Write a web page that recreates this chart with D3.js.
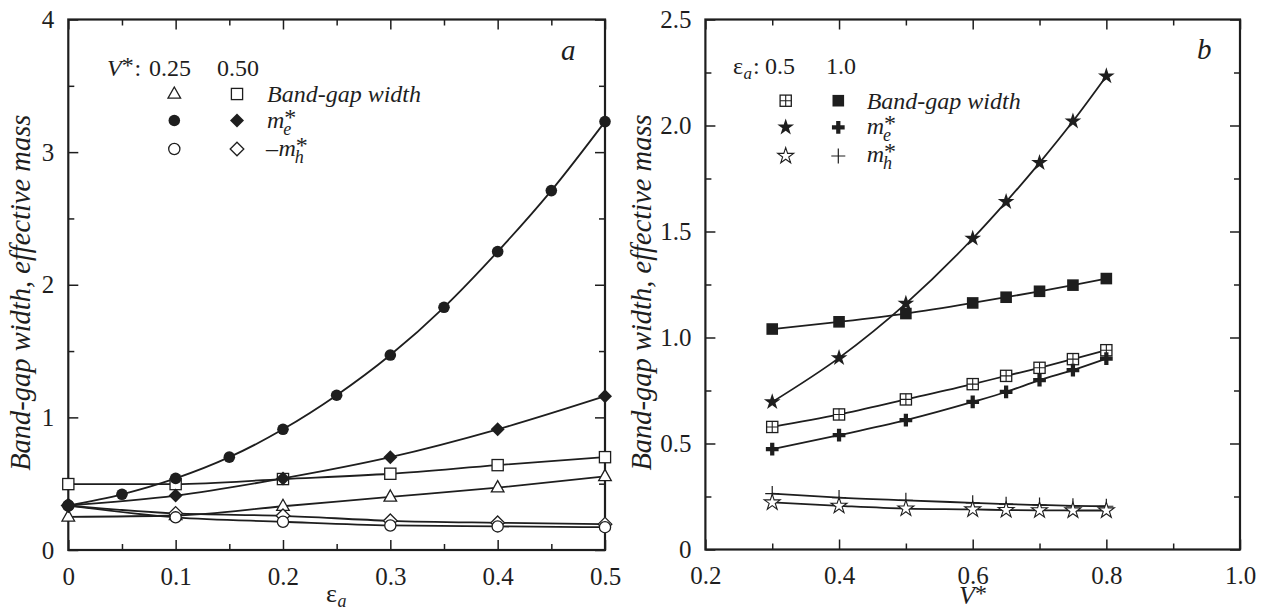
<!DOCTYPE html>
<html><head><meta charset="utf-8">
<script src="https://cdn.jsdelivr.net/npm/d3@7"></script>
<style>body{margin:0;background:#fff}</style>
</head><body>
<svg id="c" width="1266" height="613"></svg>
<script>
// ---------------- DATA ----------------
// Panel a: x = eps_a
const epsA = [0, 0.1, 0.2, 0.3, 0.4, 0.5];
const epsFine = [0, 0.05, 0.1, 0.15, 0.2, 0.25, 0.3, 0.35, 0.4, 0.45, 0.5];
const gapV025 = [0.25, 0.26, 0.33, 0.40, 0.47, 0.555];        // triangles
const gapV050 = [0.497, 0.497, 0.535, 0.575, 0.64, 0.70];     // open squares
const meV025 = [0.335, 0.42, 0.54, 0.70, 0.91, 1.167, 1.47, 1.83, 2.25, 2.71, 3.23]; // filled circles
const meV050 = [0.335, 0.41, 0.54, 0.70, 0.91, 1.16];         // filled diamonds
const mhV025 = [0.335, 0.246, 0.213, 0.185, 0.178, 0.172];    // open circles
const mhV050 = [0.335, 0.276, 0.258, 0.22, 0.205, 0.195];     // open diamonds
const aXTicks = [0, 0.1, 0.2, 0.3, 0.4, 0.5];
const aXTickLabels = ["0", "0.1", "0.2", "0.3", "0.4", "0.5"];
const aYTicks = [0, 1, 2, 3, 4];
const aYTickLabels = ["0", "1", "2", "3", "4"];

// Panel b: x = V*
const vStar = [0.3, 0.4, 0.5, 0.6, 0.65, 0.7, 0.75, 0.8];
const gapE05 = [0.578, 0.637, 0.708, 0.78, 0.819, 0.857, 0.898, 0.94];   // crossed squares
const gapE10 = [1.04, 1.074, 1.113, 1.163, 1.19, 1.218, 1.247, 1.278];  // filled squares
const meE05 = [0.696, 0.904, 1.16, 1.467, 1.64, 1.824, 2.02, 2.233];    // filled stars
const meE10 = [0.473, 0.539, 0.61, 0.696, 0.743, 0.799, 0.846, 0.90];   // bold crosses
const mhE05 = [0.222, 0.206, 0.193, 0.189, 0.186, 0.185, 0.184, 0.184]; // open stars
const mhE10 = [0.264, 0.245, 0.232, 0.22, 0.214, 0.21, 0.206, 0.204];   // thin pluses
const bXTicks = [0.2, 0.4, 0.6, 0.8, 1.0];
const bXTickLabels = ["0.2", "0.4", "0.6", "0.8", "1.0"];
const bYTicks = [0, 0.5, 1.0, 1.5, 2.0, 2.5];
const bYTickLabels = ["0", "0.5", "1.0", "1.5", "2.0", "2.5"];

// ---------------- DRAW ----------------
const INK = "#1e1e1e";
const FONT = "Liberation Serif";
const svg = d3.select("#c");
const TICKFS = 25, LEGFS = 24;

function marker(g, type, cx, cy) {
  const m = g.append("g").attr("transform", `translate(${cx},${cy})`);
  const sw = 1.3;
  switch (type) {
    case "tri":
      m.append("path").attr("d", "M0,-7L6.3,4.2L-6.3,4.2Z").attr("fill", "#fff").attr("stroke", INK).attr("stroke-width", sw); break;
    case "sq":
      m.append("rect").attr("x", -5.6).attr("y", -5.6).attr("width", 11.2).attr("height", 11.2).attr("fill", "#fff").attr("stroke", INK).attr("stroke-width", sw); break;
    case "circF":
      m.append("circle").attr("r", 5.8).attr("fill", INK); break;
    case "circO":
      m.append("circle").attr("r", 5.6).attr("fill", "#fff").attr("stroke", INK).attr("stroke-width", sw); break;
    case "diaF":
      m.append("path").attr("d", "M0,-7L7,0L0,7L-7,0Z").attr("fill", INK); break;
    case "diaO":
      m.append("path").attr("d", "M0,-6.8L6.8,0L0,6.8L-6.8,0Z").attr("fill", "#fff").attr("stroke", INK).attr("stroke-width", sw); break;
    case "sqX":
      m.append("rect").attr("x", -5.6).attr("y", -5.6).attr("width", 11.2).attr("height", 11.2).attr("fill", "#fff").attr("stroke", INK).attr("stroke-width", sw);
      m.append("path").attr("d", "M0,-5.6V5.6M-5.6,0H5.6").attr("stroke", INK).attr("stroke-width", 1.1); break;
    case "sqF":
      m.append("rect").attr("x", -5.8).attr("y", -5.8).attr("width", 11.6).attr("height", 11.6).attr("fill", INK); break;
    case "starF":
      m.append("path").attr("d", d3.symbol(d3.symbolStar, 8.8 * 8.8 / 0.8908130915292852)()).attr("fill", INK); break;
    case "starO":
      m.append("path").attr("d", d3.symbol(d3.symbolStar, 8.4 * 8.4 / 0.8908130915292852)()).attr("fill", "#fff").attr("stroke", INK).attr("stroke-width", 1.1); break;
    case "crossB":
      m.append("path").attr("d", d3.symbol(d3.symbolCross, 90)()).attr("fill", INK); break;
    case "plus":
      m.append("path").attr("d", "M0,-7.5V7.5M-7,0H7").attr("stroke", INK).attr("stroke-width", 1.2); break;
  }
}

function panel(cfg) {
  const g = svg.append("g");
  const x = d3.scaleLinear().domain(cfg.xd).range([cfg.L, cfg.R]);
  const y = d3.scaleLinear().domain(cfg.yd).range([cfg.B, cfg.T]);
  const styleAxis = sel => {
    sel.attr("font-family", FONT).attr("font-size", TICKFS);
    sel.select(".domain").remove();
    sel.selectAll("line").attr("stroke", INK).attr("stroke-width", 1.5);
    sel.selectAll("text").attr("fill", INK).attr("font-family", FONT).attr("font-size", TICKFS);
  };
  g.append("g").attr("transform", `translate(0,${cfg.B})`)
    .call(d3.axisBottom(x).tickValues(cfg.xMinor).tickSize(-6).tickFormat("")).call(styleAxis);
  g.append("g").attr("transform", `translate(0,${cfg.T})`)
    .call(d3.axisTop(x).tickValues(cfg.xMinor).tickSize(-6).tickFormat("")).call(styleAxis);
  g.append("g").attr("transform", `translate(${cfg.L},0)`)
    .call(d3.axisLeft(y).tickValues(cfg.yMinor).tickSize(-6).tickFormat("")).call(styleAxis);
  g.append("g").attr("transform", `translate(${cfg.R},0)`)
    .call(d3.axisRight(y).tickValues(cfg.yMinor).tickSize(-6).tickFormat("")).call(styleAxis);
  g.append("g").attr("transform", `translate(0,${cfg.B})`)
    .call(d3.axisBottom(x).tickValues(cfg.xTicks).tickSize(-10).tickPadding(17)
      .tickFormat((d, i) => cfg.xLabels[i])).call(styleAxis);
  g.append("g").attr("transform", `translate(0,${cfg.T})`)
    .call(d3.axisTop(x).tickValues(cfg.xTicks).tickSize(-10).tickFormat("")).call(styleAxis);
  g.append("g").attr("transform", `translate(${cfg.L},0)`)
    .call(d3.axisLeft(y).tickValues(cfg.yTicks).tickSize(-10).tickPadding(cfg.yPad)
      .tickFormat((d, i) => cfg.yLabels[i])).call(styleAxis);
  g.append("g").attr("transform", `translate(${cfg.R},0)`)
    .call(d3.axisRight(y).tickValues(cfg.yTicks).tickSize(-10).tickFormat("")).call(styleAxis);
  g.append("rect").attr("x", cfg.L).attr("y", cfg.T).attr("width", cfg.R - cfg.L).attr("height", cfg.B - cfg.T)
    .attr("fill", "none").attr("stroke", INK).attr("stroke-width", 2.2);
  const line = d3.line().x(d => x(d[0])).y(d => y(d[1])).curve(d3.curveMonotoneX);
  cfg.series.forEach(s => {
    const pts = s.xs.map((v, i) => [v, s.ys[i]]);
    g.append("path").attr("d", line(pts)).attr("fill", "none").attr("stroke", INK).attr("stroke-width", 1.8);
  });
  cfg.series.forEach(s => {
    s.xs.forEach((v, i) => marker(g, s.m, x(v), y(s.ys[i])));
  });
  g.append("text").attr("transform", `translate(${cfg.yTitleX},${(cfg.T + cfg.B) / 2 + 8}) rotate(-90)`)
    .attr("text-anchor", "middle").attr("font-family", FONT).attr("font-style", "italic").attr("font-size", 28.5)
    .attr("fill", INK).text("Band-gap width, effective mass");
  return { g, x, y };
}

const pa = panel({
  L: 68.3, R: 605, T: 19.5, B: 550, xd: [0, 0.5], yd: [0, 4],
  xTicks: aXTicks, xLabels: aXTickLabels, xMinor: [0.05, 0.15, 0.25, 0.35, 0.45],
  yTicks: aYTicks, yLabels: aYTickLabels, yMinor: [0.5, 1.5, 2.5, 3.5], yPad: 14,
  yTitleX: 30,
  series: [
    { xs: epsA, ys: gapV025, m: "tri" },
    { xs: epsA, ys: gapV050, m: "sq" },
    { xs: epsA, ys: mhV050, m: "diaO" },
    { xs: epsA, ys: mhV025, m: "circO" },
    { xs: epsA, ys: meV050, m: "diaF" },
    { xs: epsFine, ys: meV025, m: "circF" }
  ]
});
const pb = panel({
  L: 705.4, R: 1240, T: 19.5, B: 549.5, xd: [0.2, 1.0], yd: [0, 2.5],
  xTicks: bXTicks, xLabels: bXTickLabels, xMinor: [0.3, 0.5, 0.7, 0.9],
  yTicks: bYTicks, yLabels: bYTickLabels, yMinor: [0.25, 0.75, 1.25, 1.75, 2.25], yPad: 14,
  yTitleX: 651,
  series: [
    { xs: vStar, ys: mhE10, m: "plus" },
    { xs: vStar, ys: mhE05, m: "starO" },
    { xs: vStar, ys: gapE05, m: "sqX" },
    { xs: vStar, ys: meE10, m: "crossB" },
    { xs: vStar, ys: gapE10, m: "sqF" },
    { xs: vStar, ys: meE05, m: "starF" }
  ]
});

function t(g, x, y, s, fs, italic, anchor) {
  const e = g.append("text").attr("x", x).attr("y", y).attr("font-family", FONT)
    .attr("font-size", fs).attr("fill", INK).text(s);
  if (italic) e.attr("font-style", "italic");
  if (anchor) e.attr("text-anchor", anchor);
  return e;
}
// fixed advance widths (Times metrics, em units)
function massLabel(g, x, y, sub, prefix) {
  let cx = x;
  if (prefix) { t(g, cx, y, prefix, LEGFS, false); cx += 0.5 * LEGFS + 0.5; }
  t(g, cx, y, "m", LEGFS, true);
  const mw = 0.722 * LEGFS;
  t(g, cx + mw - 1, y + 7, sub, 18, true);
  t(g, cx + mw, y - 3, "*", LEGFS, false);
}

const ga = pa.g;
{
  t(ga, 107, 76, "V", LEGFS, true);
  t(ga, 107 + 0.611 * LEGFS, 73, "*", LEGFS, false);
  t(ga, 134.5, 76, ":", LEGFS, false);
  t(ga, 149, 76, "0.25", LEGFS, false);
  t(ga, 217, 76, "0.50", LEGFS, false);
  marker(ga, "tri", 174.3, 94); marker(ga, "sq", 237, 94);
  t(ga, 267, 102, "Band-gap width", LEGFS, true);
  marker(ga, "circF", 174.3, 120.5); marker(ga, "diaF", 237, 120.5);
  massLabel(ga, 267, 127.5, "e");
  marker(ga, "circO", 174.3, 149); marker(ga, "diaO", 237, 149);
  massLabel(ga, 266, 155.5, "h", "\u2013");
  t(ga, 561, 60, "a", 29, true);
  t(ga, 326, 602, "\u03b5", 26, false);
  t(ga, 326 + 0.44 * 26, 607, "a", 18, true);
}
const gb = pb.g;
{
  t(gb, 733, 74, "\u03b5", LEGFS, false);
  t(gb, 733 + 0.44 * LEGFS, 79, "a", 17, true);
  t(gb, 753, 74, ":", LEGFS, false);
  t(gb, 765, 74, "0.5", LEGFS, false);
  t(gb, 826, 74, "1.0", LEGFS, false);
  marker(gb, "sqX", 785.7, 100.7); marker(gb, "sqF", 838.3, 100.7);
  t(gb, 866.7, 108.5, "Band-gap width", LEGFS, true);
  marker(gb, "starF", 785.7, 127.3); marker(gb, "crossB", 838.3, 127.3);
  massLabel(gb, 866.7, 133.5, "e");
  marker(gb, "starO", 785.7, 156); marker(gb, "plus", 838.3, 156);
  massLabel(gb, 866.7, 162, "h");
  t(gb, 1197, 59, "b", 29, true);
  t(gb, 959, 604, "V", 26, true);
  t(gb, 959 + 0.611 * 26, 601, "*", 24, false);
}
</script>
</body></html>
